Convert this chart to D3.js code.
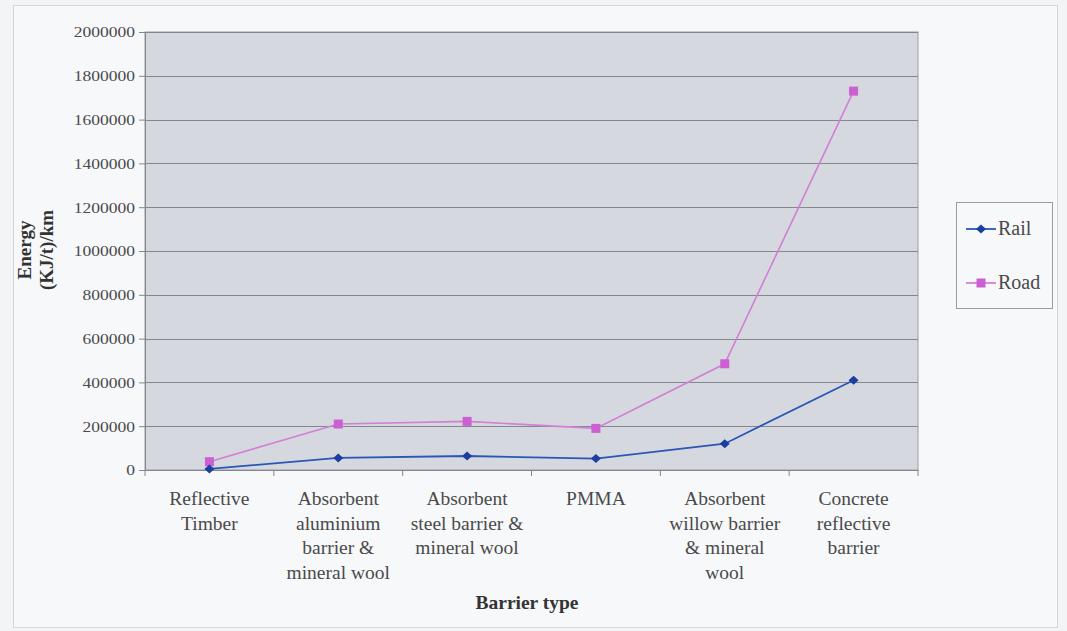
<!DOCTYPE html>
<html><head><meta charset="utf-8">
<script src="https://cdn.jsdelivr.net/npm/d3@7"></script>
<style>
body{margin:0;background:#f3f4f6;}
svg{display:block;}
svg text{font-family:"Liberation Serif","DejaVu Serif",serif !important;}
</style></head>
<body><svg id="c" width="1067" height="631"></svg>
<script>
const categories = [
  ["Reflective","Timber"],
  ["Absorbent","aluminium","barrier &","mineral wool"],
  ["Absorbent","steel barrier  &","mineral wool"],
  ["PMMA"],
  ["Absorbent","willow barrier","& mineral","wool"],
  ["Concrete","reflective","barrier"]
];
const railValues = [5000, 55000, 64000, 52000, 120000, 410000];
const roadValues = [38000, 210000, 222000, 190000, 485000, 1730000];
const yTicks = [0,200000,400000,600000,800000,1000000,1200000,1400000,1600000,1800000,2000000];
const seriesNames = ["Rail","Road"];

const FF = "Liberation Serif, DejaVu Serif, serif";
const svg = d3.select("#c");
const W=1067,H=631;
svg.append("rect").attr("x",0).attr("y",0).attr("width",W).attr("height",H).attr("fill","#f3f4f6");
svg.append("rect").attr("x",13.5).attr("y",5.5).attr("width",1044).attr("height",622)
  .attr("fill","#f7f8fa").attr("stroke","#d4d6da").attr("stroke-width",1);

const L=145,R=918,T=32,B=470;
const x = d3.scaleBand().domain(d3.range(categories.length)).range([L,R]);
const y = d3.scaleLinear().domain([0,2000000]).range([B,T]);

svg.append("rect").attr("x",L).attr("y",T).attr("width",R-L).attr("height",B-T)
  .attr("fill","#d5d8df").attr("stroke","#9a9ca2");

svg.append("g").selectAll("line").data(yTicks.filter(d=>d>0)).join("line")
  .attr("x1",L).attr("x2",R).attr("y1",d=>Math.round(y(d))+0.5).attr("y2",d=>Math.round(y(d))+0.5)
  .attr("stroke","#85878c").attr("stroke-width",1);

const sx = 1.13;
const ya = svg.append("g").attr("transform",`translate(${L},0)`)
  .call(d3.axisLeft(y).tickValues(yTicks).tickFormat(d3.format("d")).tickSize(6).tickPadding(5));
ya.attr("font-family",FF);
ya.select(".domain").attr("stroke","#85878c");
ya.selectAll(".tick line").attr("stroke","#85878c");
ya.selectAll(".tick text").attr("font-size",15.5).attr("fill","#4a4a4a").attr("font-family",FF)
  .attr("x",-10/sx).attr("transform",`scale(${sx},1)`);

const xa = svg.append("g").attr("transform",`translate(0,${B})`)
  .call(d3.axisBottom(x).tickFormat("").tickSize(0));
xa.select(".domain").attr("stroke","#85878c");
svg.append("g").selectAll("line").data(d3.range(categories.length+1)).join("line")
  .attr("x1",i=>L+i*x.step()).attr("x2",i=>L+i*x.step())
  .attr("y1",B).attr("y2",B+6).attr("stroke","#85878c");

const cl = svg.append("g");
categories.forEach((lines,i)=>{
  const t = cl.append("text").attr("text-anchor","middle").attr("font-size",19.5).attr("fill","#4a4a4a").attr("font-family",FF);
  lines.forEach((ln,j)=>{
    t.append("tspan").attr("x",x(i)+x.bandwidth()/2).attr("y",505+j*24.5).text(ln);
  });
});

const line = d3.line().x((d,i)=>x(i)+x.bandwidth()/2).y(d=>y(d));
svg.append("path").datum(roadValues).attr("d",line).attr("fill","none").attr("stroke","#d27fd6").attr("stroke-width",1.6);
svg.append("path").datum(railValues).attr("d",line).attr("fill","none").attr("stroke","#2a56b8").attr("stroke-width",1.8);

svg.append("g").selectAll("rect").data(roadValues).join("rect")
  .attr("x",(d,i)=>x(i)+x.bandwidth()/2-4.5).attr("y",d=>y(d)-4.5)
  .attr("width",9).attr("height",9).attr("fill","#cc5fd2");
const diamond = "M0,-4.5L5,0L0,4.5L-5,0Z";
svg.append("g").selectAll("path").data(railValues).join("path")
  .attr("transform",(d,i)=>`translate(${x(i)+x.bandwidth()/2},${y(d)})`)
  .attr("d",diamond).attr("fill","#1b3f9e");

const yt = svg.append("text").attr("transform","translate(0,250) rotate(-90)").attr("text-anchor","middle")
  .attr("font-size",19).attr("font-weight","bold").attr("fill","#333").attr("font-family",FF);
yt.append("tspan").attr("x",0).attr("y",31).text("Energy");
yt.append("tspan").attr("x",0).attr("y",53).text("(KJ/t)/km");
svg.append("text").attr("x",527).attr("y",609).attr("text-anchor","middle").attr("font-family",FF)
  .attr("font-size",19.5).attr("font-weight","bold").attr("fill","#333").text("Barrier type");

const lg = svg.append("g");
lg.append("rect").attr("x",956.5).attr("y",202.5).attr("width",96).attr("height",106)
  .attr("fill","#f7f8fa").attr("stroke","#9a9ca2");
const legY=[229,283];
const legColor=["#2a56b8","#d27fd6"];
seriesNames.forEach((n,i)=>{
  lg.append("line").attr("x1",966).attr("x2",996).attr("y1",legY[i]).attr("y2",legY[i])
    .attr("stroke",legColor[i]).attr("stroke-width",1.8);
  if(i===0) lg.append("path").attr("transform",`translate(981,${legY[i]})`).attr("d",diamond).attr("fill","#1b3f9e");
  else lg.append("rect").attr("x",976.5).attr("y",legY[i]-4.5).attr("width",9).attr("height",9).attr("fill","#cc5fd2");
  lg.append("text").attr("x",998).attr("y",legY[i]+6).attr("font-size",20).attr("fill","#4a4a4a").attr("font-family",FF).text(n);
});
</script></body></html>
